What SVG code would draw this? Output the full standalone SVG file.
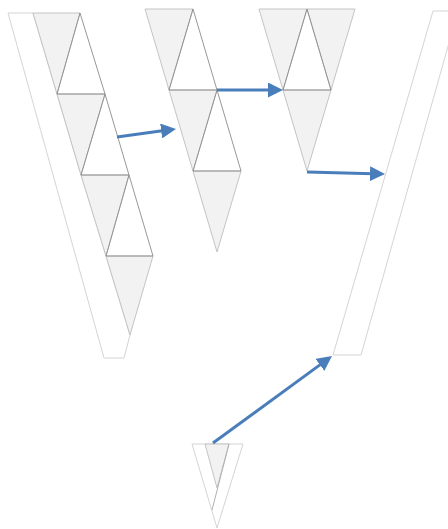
<svg xmlns="http://www.w3.org/2000/svg" width="448" height="529" viewBox="0 0 448 529">
<style>
.band{fill:#ffffff;stroke:#d4d4d4;stroke-width:1}
.sh{fill:#f2f2f2;stroke:#c4c4c4;stroke-width:1}
.wt{fill:none;stroke:#8c8c8c;stroke-width:0.9}
.ln{fill:none;stroke:#b0b0b0;stroke-width:1}
.arr{fill:none;stroke:#4a7ebb;stroke-width:3;marker-end:url(#ah)}
</style>
<defs>
<marker id="ah" viewBox="0 0 10 10" refX="2" refY="5" markerWidth="5" markerHeight="5" orient="auto" markerUnits="strokeWidth">
<path d="M0,0 L10,5 L0,10 z" fill="#4a7ebb"/>
</marker>
</defs>
<rect width="448" height="529" fill="#ffffff"/>
<g id="left-stack">
<polygon class="band" points="8,13 33,13 57,94 81,175 106,256 130,335 124,358 104,358"/>
<polygon class="sh" points="33,13 80,13 57,94"/>
<polygon class="sh" points="57,94 105,94 81,175"/>
<polygon class="sh" points="81,175 129,175 106,256"/>
<polygon class="sh" points="106,256 153,256 130,335"/>
<polygon class="wt" points="80,13 105,94 57,94"/>
<polygon class="wt" points="105,94 129,175 81,175"/>
<polygon class="wt" points="129,175 153,256 106,256"/>
</g>
<g id="middle-stack">
<polygon class="sh" points="145,9 193,9 169,90"/>
<polygon class="sh" points="169,90 217,90 193,171"/>
<polygon class="sh" points="193,171 241,171 217,252"/>
<polygon class="wt" points="193,9 217,90 169,90"/>
<polygon class="wt" points="217,90 241,171 193,171"/>
</g>
<g id="right-stack">
<polygon class="sh" points="259,9 307,9 283,90"/>
<polygon class="sh" points="307,9 355,9 331,90"/>
<polygon class="sh" points="283,90 331,90 307,171"/>
<polygon class="wt" points="307,9 331,90 283,90"/>
</g>
<g id="right-band">
<polygon class="band" points="433,11 458,11 361,355 333,355"/>
</g>
<g id="bottom-v">
<polygon class="band" points="192,444 243,444 217,528"/>
<polygon class="sh" points="205,444 229,444 217,488"/>
<line class="ln" x1="229" y1="444" x2="212" y2="510"/>
</g>
<g id="connectors">
<line class="arr" x1="117" y1="137" x2="164.1" y2="130.6"/>
<line class="arr" x1="217" y1="90" x2="271" y2="90"/>
<line class="arr" x1="307" y1="172" x2="373" y2="173.7"/>
<line class="arr" x1="213" y1="443" x2="322.3" y2="363.1"/>
</g>
</svg>
